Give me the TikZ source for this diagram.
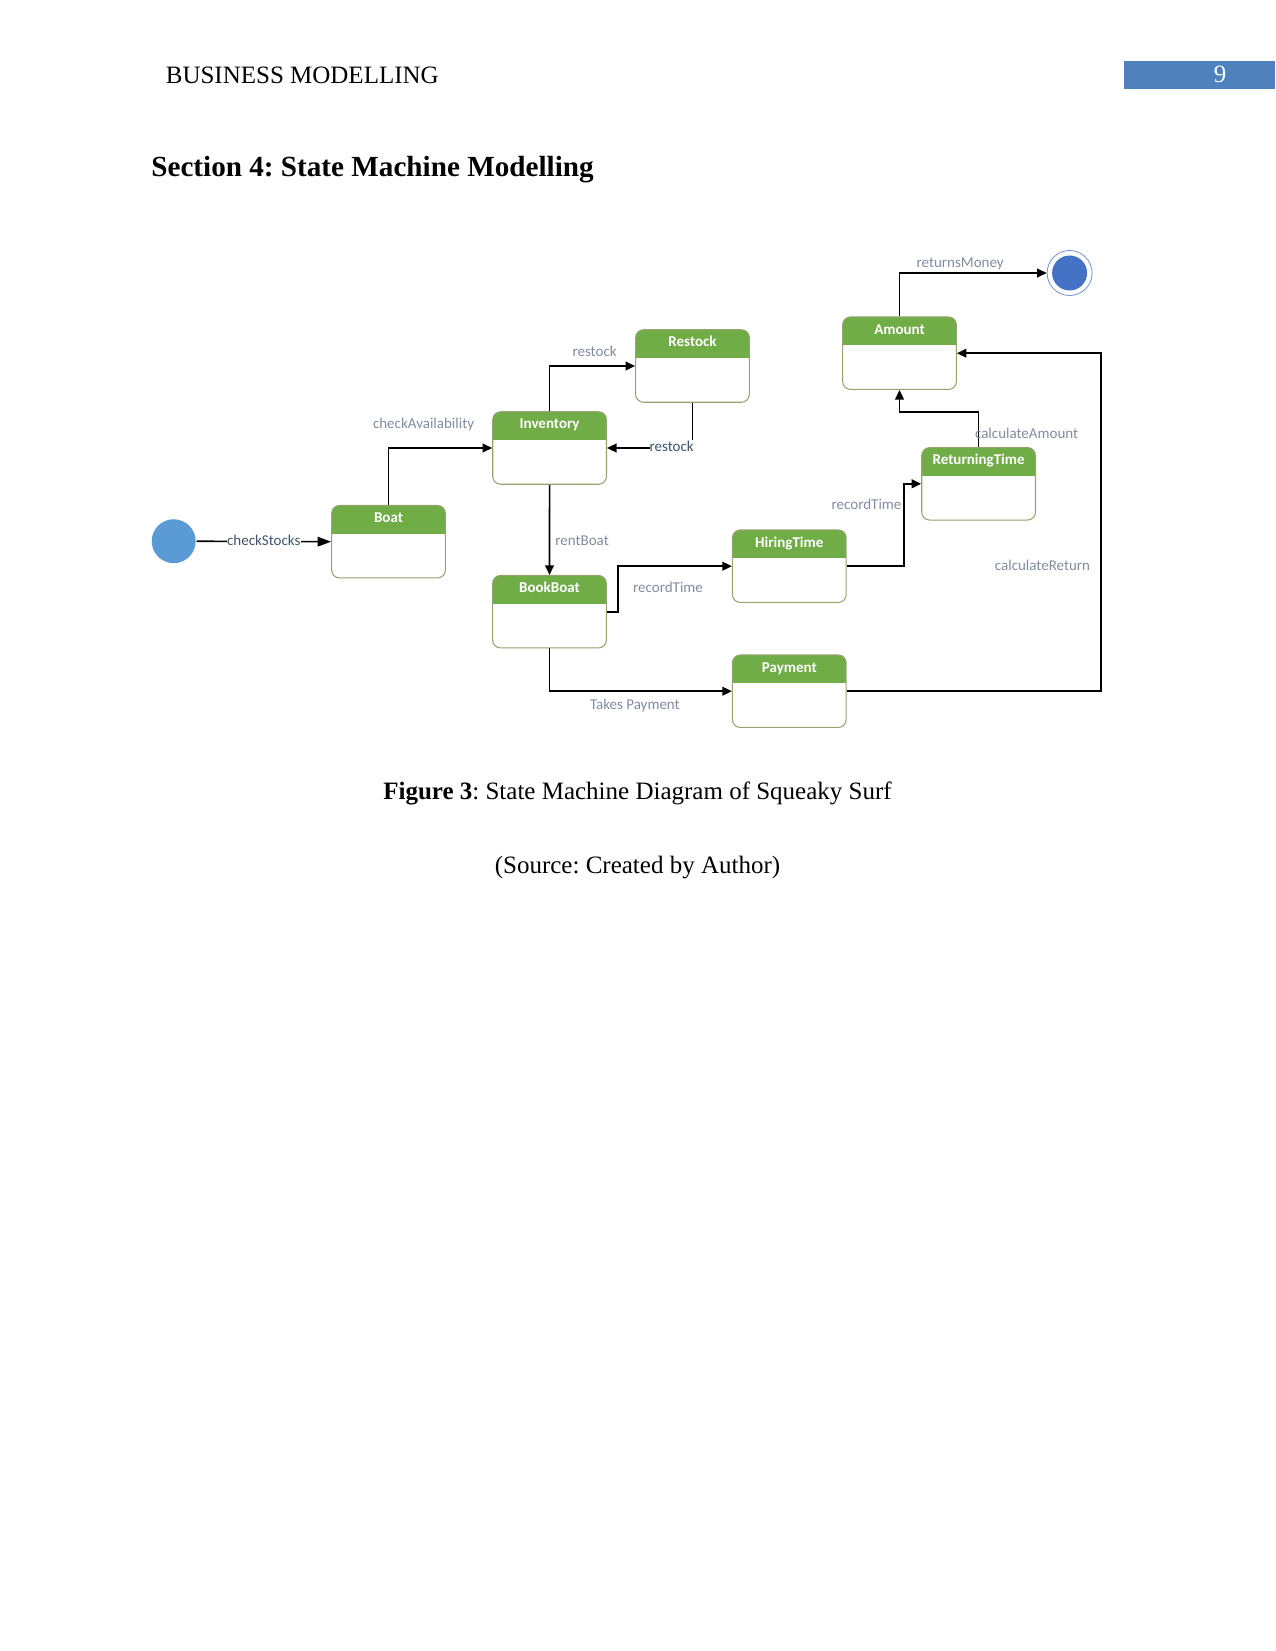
\documentclass[tikz,border=0pt]{standalone}
\usepackage{fontspec}
\setmainfont{Liberation Serif}
\newfontfamily\diagfont{Carlito}
\usetikzlibrary{arrows.meta,calc}
\frenchspacing

\definecolor{hdgreen}{HTML}{70AD47}
\definecolor{boxline}{RGB}{150,162,112}
\definecolor{lblgray}{RGB}{128,140,160}
\definecolor{lbldark}{RGB}{62,86,110}
\definecolor{startblue}{HTML}{5B9BD5}
\definecolor{endblue}{HTML}{4472C4}
\definecolor{pageblue}{HTML}{4F81BD}

\begin{document}
\begin{tikzpicture}[x=0.48pt, y=-0.48pt, >={Triangle[length=4.6pt,width=4.2pt]},
  line width=0.8pt,
  statebox/.style={draw=boxline, line width=0.5pt, rounded corners=3.8pt,
    minimum width=54.6pt, minimum height=34.8pt, inner sep=0pt,
    path picture={\fill[hdgreen, sharp corners] (path picture bounding box.north west)
      rectangle ([yshift=-13.7pt]path picture bounding box.north east);}},
  stitle/.style={font=\diagfont\bfseries\fontsize{7.2}{8.6}\selectfont, text=white,
    inner sep=0pt, text height=5.2pt, text depth=1.5pt},
  lbl/.style={font=\diagfont\fontsize{7.2}{8.6}\selectfont, text=lblgray,
    inner sep=1.5pt, text height=5.2pt, text depth=1.5pt},
  dklbl/.style={lbl, text=lbldark, fill=white, inner xsep=0pt, inner ysep=0.5pt}]
  \useasboundingbox (0,0) rectangle (1275,1651);
  % page head
  \node[anchor=base west, inner sep=0pt, font=\fontsize{12}{14}\selectfont] (running) at (165,83.3) {BUSINESS MODELLING};
  \fill[pageblue] (1124,61) rectangle (1275,89.5);
  \node[anchor=base, inner sep=0pt, text=white, font=\fontsize{12}{14}\selectfont] (pagenum) at (1220,82.7) {9};
  \node[anchor=base west, inner sep=0pt, font=\bfseries\fontsize{14}{17}\selectfont] (section) at (150.5,176.7) {Section 4: State Machine Modelling};
  % states
  \foreach \n/\t/\x/\y in {boat/Boat/388.5/541.7, inventory/Inventory/549.6/448,
      restock/Restock/692.5/366, bookboat/BookBoat/549.5/611.7,
      hiring/HiringTime/789.3/566.2, payment/Payment/789.3/691.2,
      returning/ReturningTime/978.6/483.8, amount/Amount/899.5/353.2}
  {
    \node[statebox] (\n) at (\x,\y) {};
    \node[stitle] (\n-t) at ([yshift=-6.6pt]\n.north) {\t};
  }
  % start and end
  \node[circle, fill=startblue, minimum size=21.1pt, inner sep=0pt] (init) at (173.7,541.2) {};
  \node[circle, draw=endblue!75, line width=0.4pt, minimum size=21.6pt, inner sep=0pt,
    path picture={\fill[endblue] (path picture bounding box.center) circle (8.4pt);}] (final) at (1069.6,273) {};
  % transitions
  \draw[-{Triangle[length=6.5pt,width=4.6pt]}] (init) -- node[dklbl] (l1) {checkStocks} (boat.west);
  \draw[->] (boat.north) |- node[lbl, above, pos=0.669, yshift=5.9pt] (l2) {checkAvailability} (inventory.west);
  \draw[->] (inventory.north) |- node[lbl, above, pos=0.763, yshift=1.1pt] (l3) {restock} (restock.west);
  \draw[->] (restock.south) |- node[dklbl, anchor=east, pos=0.5, xshift=1pt] (l4) {restock} (inventory.east);
  \draw[->] (inventory.south) -- node[lbl, right, pos=0.63, xshift=0.9pt] (l5) {rentBoat} (bookboat.north);
  \draw[->] (bookboat.east) -- ++(11,0) |- node[lbl, below, pos=0.72, yshift=-5.5pt] (l6) {recordTime} (hiring.west);
  \draw[->] (hiring.east) -- ++(57.2,0) |- node[lbl, left, pos=0.365, xshift=0.7pt] (l7) {recordTime} (returning.west);
  \draw[->] (returning.north) -- node[lbl, right, pos=0.34, xshift=-3.6pt] (l8) {calculateAmount} ++(0,-35) -| (amount.south);
  \draw[->] (payment.east) -- ++(254,0) |- node[lbl, left, pos=0.184, xshift=-3.2pt] (l9) {calculateReturn} (amount.east);
  \draw[->] (bookboat.south) |- node[lbl, below, pos=0.734, yshift=-1.5pt] (l10) {Takes Payment} (payment.west);
  \draw[->] (amount.north) |- node[lbl, above, pos=0.706, yshift=-0.9pt] (l11) {returnsMoney} (final.west);
  % caption
  \node[anchor=base, inner sep=0pt, font=\fontsize{12}{14}\selectfont] (caption) at (637.5,799.3) {\textbf{Figure 3}: State Machine Diagram of Squeaky Surf};
  \node[anchor=base, inner sep=0pt, font=\fontsize{12}{14}\selectfont] (source) at (637.5,873.3) {(Source: Created by Author)};
\end{tikzpicture}
\end{document}
